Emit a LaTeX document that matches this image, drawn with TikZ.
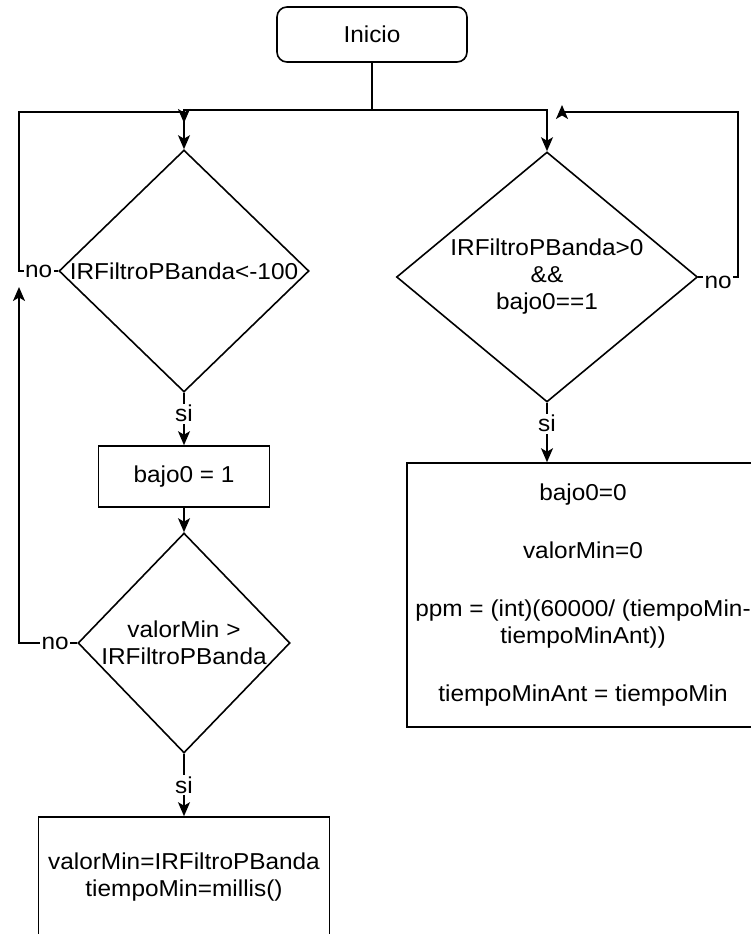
\documentclass[tikz,border=0pt]{standalone}
\usepackage{fontspec}
\setmainfont{Liberation Sans}[FakeStretch=1.06]
\usetikzlibrary{arrows.meta, positioning, shapes.geometric}

\begin{document}
\begin{tikzpicture}[
  x=1pt, y=-1pt,
  every node/.style={font=\fontsize{23}{27}\selectfont},
  line width=1.6pt,
  flow/.style={-{Stealth[length=14pt, width=12pt, inset=3.5pt]}},
  proc/.style={draw, rectangle, inner sep=0pt, align=center},
  cond/.style={draw, diamond, inner sep=0pt, align=center},
  lbl/.style={fill=white, inner sep=1.5pt}
]
\useasboundingbox (0,0) rectangle (751,934);

% --- Start ---
\node[proc, rounded corners=10pt, minimum width=190pt, minimum height=55pt]
      (inicio) at (372,34.5) {Inicio};

% --- Left branch ---
\node[cond, aspect=1.03, minimum width=250pt, minimum height=242pt]
      (cond1) at (184,271) {IRFiltroPBanda<-100};
\node[proc, minimum width=171pt, minimum height=61pt]
      (bajo1) at (184,476.5) {bajo0 = 1};
\node[cond, aspect=0.96, minimum width=212pt, minimum height=220pt]
      (cond2) at (184,643) {valorMin >\\IRFiltroPBanda};
\node[proc, minimum width=291pt, minimum height=120pt]
      (minset) at (184,877) {valorMin=IRFiltroPBanda\\tiempoMin=millis()};

% --- Right branch ---
\node[cond, aspect=1.2, minimum width=301pt, minimum height=250pt]
      (cond3) at (547,277) {IRFiltroPBanda>0\\\&\&\\bajo0==1};
\node[proc, minimum width=352pt, minimum height=264pt]
      (reset) at (583,595) {bajo0=0\\[31pt]valorMin=0\\[31pt]ppm = (int)(60000/ (tiempoMin-\\tiempoMinAnt))\\[31pt]tiempoMinAnt = tiempoMin};

% Split below start
\coordinate (split) at (372,110);
\draw (inicio.south) -- (split);
\draw[flow] (split) -| (cond1.north);
\draw[flow] (split) -| (cond3.north);

% Loop back from first condition
\coordinate (loopL) at (19,112);
\coordinate (backL) at (184,123);
\draw[flow] (cond1.west) -- node[lbl]{no} (cond1.west -| loopL) -- (loopL) -- (loopL -| backL) -- (backL);

% Loop back from second condition
\coordinate (backL2) at (19,287);
\draw[flow] (cond2.west) -- node[lbl, pos=0.38]{no} (cond2.west -| backL2) -- (backL2);

% Loop back from right condition
\coordinate (loopR) at (738,112);
\coordinate (backR) at (562,105);
\draw[flow] (cond3.east) -- node[lbl, yshift=-5pt]{no} (cond3.east -| loopR) -- (loopR) -- (loopR -| backR) -- (backR);

% Yes branches
\draw[flow] (cond1.south) -- node[lbl, pos=0.4]{si} (bajo1.north);
\draw[flow] (bajo1.south) -- (cond2.north);
\draw[flow] (cond2.south) -- node[lbl]{si} (minset.north);
\draw[flow] (cond3.south) -- node[lbl, pos=0.35]{si} (cond3.south |- reset.north);

\end{tikzpicture}
\end{document}
